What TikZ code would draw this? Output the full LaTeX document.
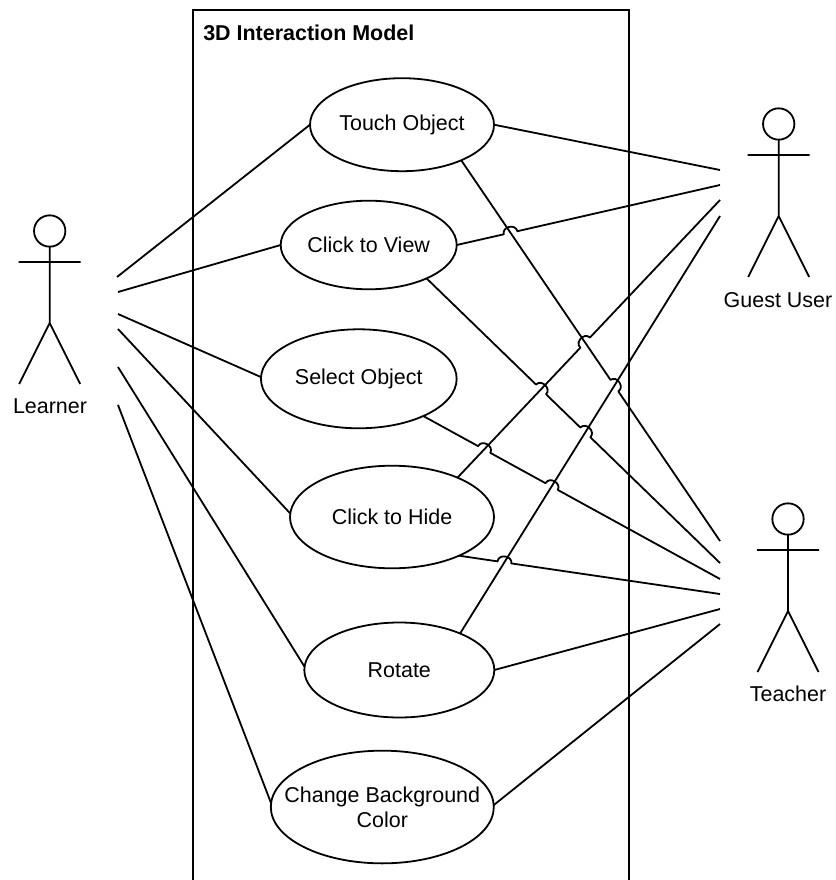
\documentclass[tikz,border=0pt]{standalone}
\usepackage{fontspec}
\setmainfont{Liberation Sans}
\usetikzlibrary{shapes.geometric,calc}
\tikzset{
 usecase/.style 2 args={draw,ellipse,line width=1.35pt,minimum width=#1*0.75pt,minimum height=#2*0.75pt,inner sep=-15pt,outer sep=0pt,align=center,font=\fontsize{16.1}{18.8}\selectfont},
 lab/.style={font=\fontsize{16.1}{18.8}\selectfont},
 link/.style={line width=1.35pt,line join=round},
 actorline/.style={line width=1.35pt}
}
\newcommand{\actorfig}[3]{%
 \node[draw,circle,line width=1.35pt,minimum size=23.5pt,inner sep=0pt,outer sep=0pt] (#3h) at (#1,#2) {};
 \coordinate (#3n) at (#1,#2+92);
 \coordinate (#3l) at (#1-31,#2+31);
 \coordinate (#3r) at (#1+31,#2+31);
 \coordinate (#3a) at (#1-30.5,#2+153);
 \coordinate (#3b) at (#1+30.5,#2+153);
 \draw[actorline] (#3h.south) -- (#3n) (#3l) -- (#3r) (#3a) -- (#3n) -- (#3b);
}
\newcommand{\hop}[3]{-- ($(#1)!5.25pt!(#2)$) .. controls ($(#1)!5.25pt!(#2)!6pt!90:(#1)$) and ($(#1)!5.25pt!(#3)!6pt!-90:(#1)$) .. ($(#1)!5.25pt!(#3)$)}
\begin{document}
\begin{tikzpicture}[x=0.75pt,y=-0.75pt]
\useasboundingbox (0,0) rectangle (835,880);
\fill[white] (0,0) rectangle (835,880);
\coordinate (bA) at (193,880); \coordinate (bB) at (193,10); \coordinate (bC) at (629,10); \coordinate (bD) at (629,880);
\draw[line width=1.5pt] (bA) -- (bB) -- (bC) -- (bD);
\node[anchor=west,inner sep=0pt,font=\fontsize{16.1}{18.8}\selectfont\bfseries] (title) at (203,33) {3D Interaction Model};

\node[usecase={184}{93}] (touch) at (402,124.7) {Touch Object};
\node[usecase={176}{88.6}] (view) at (368.7,245) {Click to View};
\node[usecase={195.7}{99}] (select) at (358.8,378.8) {Select Object};
\node[usecase={204}{102.6}] (hide) at (392,517) {Click to Hide};
\node[usecase={190}{95}] (rotate) at (399.3,670) {Rotate};
\node[usecase={223}{112.7}] (change) at (382.3,807) {Change Background\\Color};

\actorfig{49.7}{231}{le}
\actorfig{778.7}{124}{gu}
\actorfig{788}{519}{te}
\node[lab] (learner) at (50,406) {Learner};
\node[lab] (guest) at (778,300) {Guest User};
\node[lab] (teacher) at (788,694) {Teacher};

% actor side ends
\coordinate (L1) at (117,277); \coordinate (L2) at (118,292); \coordinate (L3) at (118,314);
\coordinate (L4) at (118,329); \coordinate (L5) at (118,367); \coordinate (L6) at (118,405);
\coordinate (G1) at (720,170); \coordinate (G2) at (720,185); \coordinate (G3) at (720,200); \coordinate (G4) at (720,216);
\coordinate (T1) at (720,541); \coordinate (T2) at (720,563); \coordinate (T3) at (720,579);
\coordinate (T4) at (720,594); \coordinate (T5) at (720,609); \coordinate (T6) at (720,624);
% use-case side ends
\coordinate (tt) at (touch.-31); \coordinate (vt) at (view.-30.4); \coordinate (st) at (select.-30.9);
\coordinate (ht) at (hide.-30.7); \coordinate (vg) at (view.0.6); \coordinate (hg) at (hide.31.5); \coordinate (rg) at (rotate.31.9);
% crossings
\coordinate (xVT) at (intersection of vg--G2 and tt--T1);
\coordinate (xHT) at (intersection of hg--G3 and tt--T1);
\coordinate (xHV) at (intersection of hg--G3 and vt--T2);
\coordinate (xHS) at (intersection of hg--G3 and st--T3);
\coordinate (xRT) at (intersection of rg--G4 and tt--T1);
\coordinate (xRV) at (intersection of rg--G4 and vt--T2);
\coordinate (xRS) at (intersection of rg--G4 and st--T3);
\coordinate (xRH) at (intersection of rg--G4 and ht--T4);

% Learner
\draw[link] (L1) -- (touch.180.8);
\draw[link] (L2) -- (view.180);
\draw[link] (L3) -- (select.179.5);
\draw[link] (L4) -- (hide.178.9);
\draw[link] (L5) -- (rotate.178.8);
\draw[link] (L6) -- (change.178);
% Guest User
\draw[link] (touch.-0.2) -- (G1);
\draw[link] (vg) \hop{xVT}{vg}{G2} -- (G2);
\draw[link] (hg) \hop{xHT}{hg}{G3} -- (G3);
\draw[link] (rg) -- (G4);
% Teacher
\draw[link] (tt) \hop{xRT}{tt}{T1} -- (T1);
\draw[link] (vt) \hop{xHV}{vt}{T2} \hop{xRV}{vt}{T2} -- (T2);
\draw[link] (st) \hop{xHS}{st}{T3} \hop{xRS}{st}{T3} -- (T3);
\draw[link] (ht) \hop{xRH}{ht}{T4} -- (T4);
\draw[link] (rotate.0) -- (T5);
\draw[link] (change.1) -- (T6);
\end{tikzpicture}
\end{document}
